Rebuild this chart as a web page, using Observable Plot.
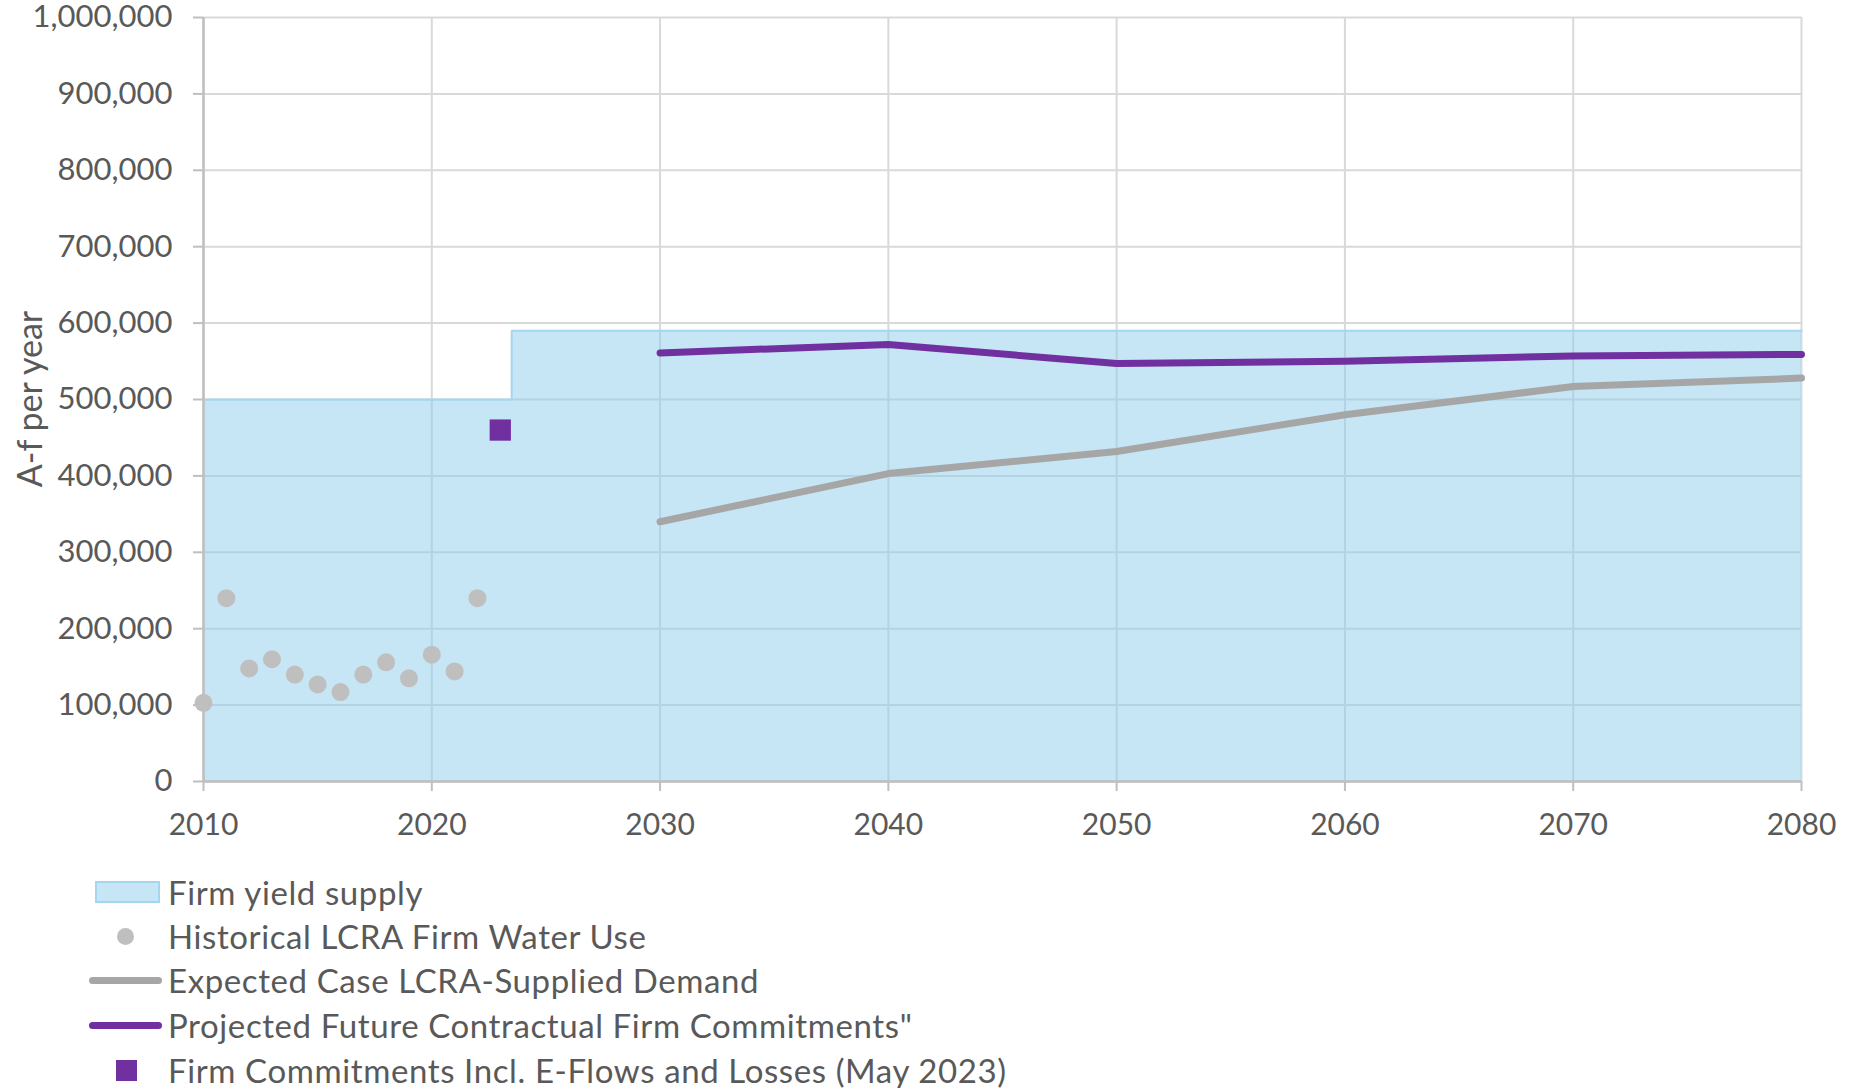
<!DOCTYPE html>
<html><head><meta charset="utf-8">
<script src="https://cdn.jsdelivr.net/npm/d3@7"></script>
<script src="https://cdn.jsdelivr.net/npm/@observablehq/plot@0.6"></script>
<style>
body{margin:0;background:#fff;font-family:Lato, sans-serif;}
#chart{position:absolute;left:0;top:0;}
#ytitle{position:absolute;left:28px;top:399px;transform:translate(-50%,-50%) rotate(-90deg);font-size:34px;color:#595959;white-space:nowrap;}
.leg{position:absolute;left:0;width:1400px;height:44px;}
.leg .t{position:absolute;left:168px;top:50%;transform:translateY(-50%);font-size:33px;letter-spacing:0.6px;color:#595959;white-space:nowrap;}
.leg .s{position:absolute;}
</style></head><body>
<div id="chart"></div>
<div id="ytitle">A-f per year</div>
<div id="legend"></div>
<script>
// ---- data ----
const supplyYears = [2010, 2023.5, 2080];
const supplyValues = [500000, 590000, 590000];
const histYears = [2010, 2011, 2012, 2013, 2014, 2015, 2016, 2017, 2018, 2019, 2020, 2021, 2022];
const histValues = [103000, 240000, 148000, 160000, 140000, 127000, 117000, 140000, 156000, 135000, 166000, 144000, 240000];
const projYears = [2030, 2040, 2050, 2060, 2070, 2080];
const demandValues = [340000, 403000, 432000, 480000, 517000, 528000];
const commitValues = [561000, 572000, 547000, 550000, 557000, 559000];
const may2023Years = [2023];
const may2023Values = [460000];
const xTicks = [2010, 2020, 2030, 2040, 2050, 2060, 2070, 2080];
const yTicks = [0, 100000, 200000, 300000, 400000, 500000, 600000, 700000, 800000, 900000, 1000000];
const legendLabels = [
  "Firm yield supply",
  "Historical LCRA Firm Water Use",
  "Expected Case LCRA-Supplied Demand",
  "Projected Future Contractual Firm Commitments\"",
  "Firm Commitments Incl. E-Flows and Losses (May 2023)"
];

const zip = (xs, ys) => xs.map((x, i) => ({year: x, value: ys[i]}));
const supply = zip(supplyYears, supplyValues);
const hist = zip(histYears, histValues);
const demand = zip(projYears, demandValues);
const commit = zip(projYears, commitValues);
const may = zip(may2023Years, may2023Values);

const chart = Plot.plot({
  width: 1849, height: 862,
  marginLeft: 203, marginRight: 48, marginTop: 17, marginBottom: 81,
  x: {domain: [2010, 2080]},
  y: {domain: [0, 1000000]},
  style: {fontFamily: "Lato, sans-serif", fontSize: "31px", color: "#595959", background: "#fff", overflow: "visible"},
  marks: [
    Plot.gridX(xTicks, {stroke: "#d9d9d9", strokeOpacity: 1, strokeWidth: 2}),
    Plot.gridY(yTicks, {stroke: "#d9d9d9", strokeOpacity: 1, strokeWidth: 2}),
    Plot.areaY(supply, {x: "year", y: "value", curve: "step-after", fill: "#8ecbec", fillOpacity: 0.5}),
    Plot.lineY(supply, {x: "year", y: "value", curve: "step-after", stroke: "#a3d6f0", strokeWidth: 2}),
    Plot.ruleX([2010], {stroke: "#bfbfbf", strokeWidth: 2.5}),
    Plot.ruleY([0], {stroke: "#bfbfbf", strokeWidth: 2.5}),
    Plot.axisX(xTicks, {tickSize: 10, tickPadding: 22, stroke: "#bfbfbf", strokeWidth: 2, fill: "#595959", fontSize: 30, tickFormat: d => String(d), label: null}),
    Plot.axisY(yTicks, {tickSize: 10, tickPadding: 21, stroke: "#bfbfbf", strokeWidth: 2, fill: "#595959", tickFormat: d3.format(","), label: null}),
    Plot.dot(hist, {x: "year", y: "value", r: 9, fill: "#bfbfbf"}),
    Plot.line(demand, {x: "year", y: "value", stroke: "#a6a6a6", strokeWidth: 7, strokeLinecap: "round"}),
    Plot.line(commit, {x: "year", y: "value", stroke: "#7030a0", strokeWidth: 7, strokeLinecap: "round"}),
    Plot.dot(may, {x: "year", y: "value", symbol: "square", r: 12, fill: "#7030a0"})
  ]
});
document.getElementById("chart").appendChild(chart);

// ---- legend ----
const legendY = [892, 936, 980, 1025, 1070];
const swatches = [
  '<div class="s" style="left:95px;top:11px;background:#c6e5f5;border:2px solid #a3d6f0;box-sizing:border-box;width:65px;height:22px;"></div>',
  '<div class="s" style="left:117px;top:14px;width:17px;height:17px;border-radius:50%;background:#bfbfbf;"></div>',
  '<div class="s" style="left:89px;top:19px;width:73px;height:7px;border-radius:4px;background:#a6a6a6;"></div>',
  '<div class="s" style="left:89px;top:19px;width:73px;height:7px;border-radius:4px;background:#7030a0;"></div>',
  '<div class="s" style="left:116px;top:12px;width:21px;height:21px;background:#7030a0;"></div>'
];
const leg = document.getElementById("legend");
legendLabels.forEach((lab, i) => {
  const d = document.createElement("div");
  d.className = "leg";
  d.style.top = (legendY[i] - 22) + "px";
  d.innerHTML = swatches[i] + '<span class="t"></span>';
  d.querySelector(".t").textContent = lab;
  leg.appendChild(d);
});
</script>
</body></html>
